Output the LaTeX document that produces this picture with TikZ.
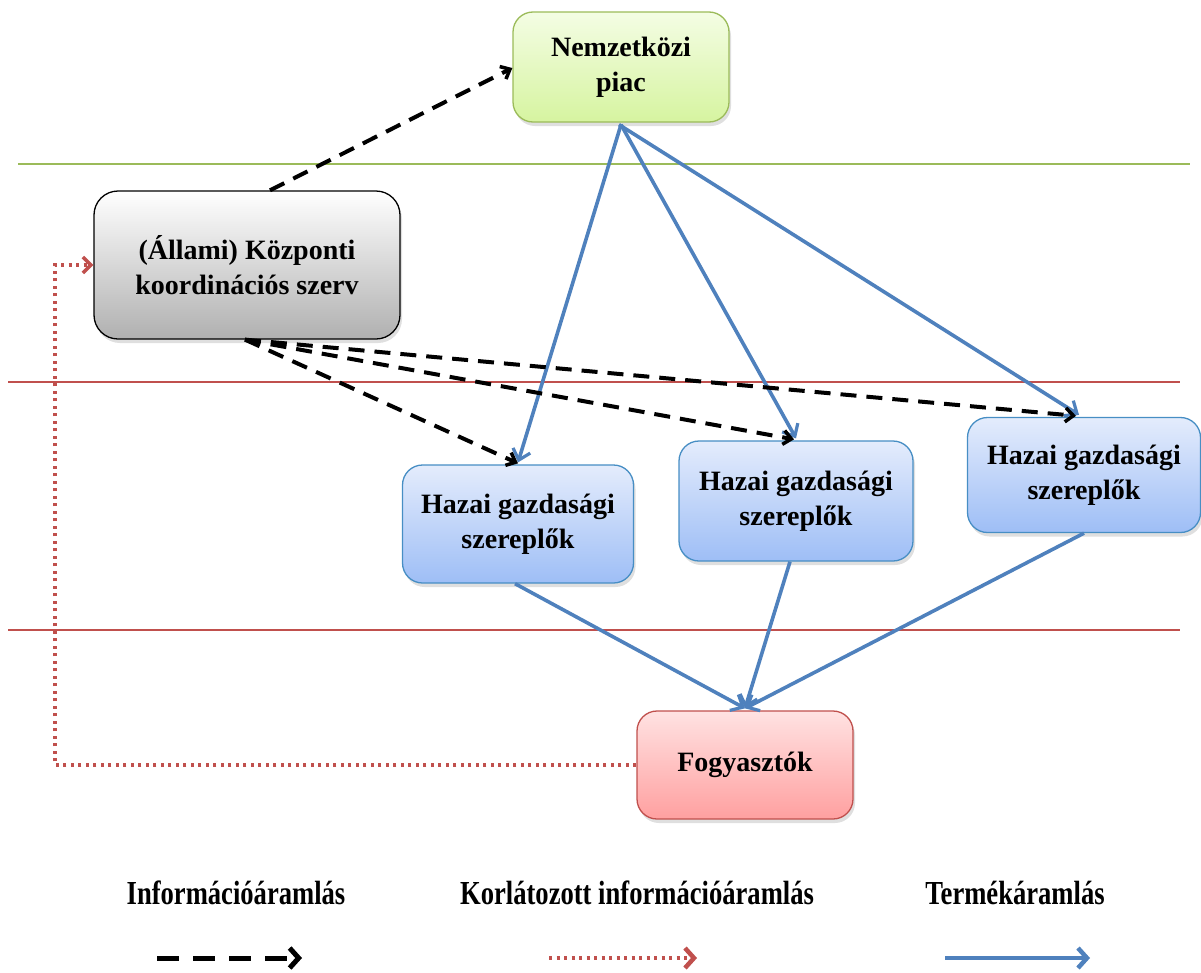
\documentclass[tikz,border=0pt]{standalone}
\usepackage{fontspec}
\setmainfont{Liberation Serif}
\usetikzlibrary{arrows.meta,shadows}
\definecolor{prodblue}{HTML}{4F81BD}
\definecolor{infored}{HTML}{C0504D}
\definecolor{linegreen}{HTML}{9BBB59}
\tikzset{
  box/.style={rounded corners=20pt, line width=1.3pt, align=center,
    font=\fontsize{28}{35}\selectfont\bfseries, inner sep=0pt,
    drop shadow={shadow xshift=2pt, shadow yshift=-4pt, opacity=0.25}},
  greenbox/.style={box, draw=linegreen, top color={rgb,255:red,244;green,253;blue,228}, bottom color={rgb,255:red,214;green,244;blue,160}},
  greybox/.style={box, draw=black, top color=white, bottom color={rgb,255:red,176;green,176;blue,176}},
  bluebox/.style={box, draw=prodblue!90!cyan, top color={rgb,255:red,228;green,236;blue,252}, bottom color={rgb,255:red,158;green,190;blue,246}},
  redbox/.style={box, draw=infored, top color={rgb,255:red,255;green,226;blue,226}, bottom color={rgb,255:red,255;green,160;blue,160}},
  infoflow/.style={draw=black, line width=4pt, dash pattern=on 16pt off 10pt,
    -{Straight Barb[length=8pt,width=14pt,line width=3.5pt]}},
  limitflow/.style={draw=infored, line width=3.5pt, dash pattern=on 3pt off 4.5pt,
    -{Straight Barb[length=8pt,width=16pt,line width=3.5pt]}},
  prodflow/.style={draw=prodblue, line width=3.6pt,
    -{Straight Barb[length=10pt,width=18pt,line width=3.2pt]}},
  layerline/.style={line width=1.2pt},
  legendtext/.style={font=\fontsize{28}{30}\selectfont\bfseries, inner sep=0pt}
}
\begin{document}
\begin{tikzpicture}[x=1pt,y=-1pt]
\useasboundingbox (0,0) rectangle (1201,972);

% layer separators
\draw[layerline, draw=linegreen] (18,164) -- (1190,164);
\draw[layerline, draw=infored] (8,382) -- (1180,382);
\draw[layerline, draw=infored] (8,630) -- (1180,630);

% actors
\node[greenbox, minimum width=216pt, minimum height=110pt] (nemz) at (621,67) {Nemzetközi\\piac};
\node[greybox, minimum width=306pt, minimum height=148pt, rounded corners=24pt] (kozp) at (247,265) {(Állami) Központi\\koordinációs szerv};
\node[bluebox, minimum width=231pt, minimum height=118pt] (hz1) at (518,524) {Hazai gazdasági\\szereplők};
\node[bluebox, minimum width=234pt, minimum height=120pt] (hz2) at (796,501) {Hazai gazdasági\\szereplők};
\node[bluebox, minimum width=233pt, minimum height=115pt] (hz3) at (1084,475) {Hazai gazdasági\\szereplők};
\node[redbox, minimum width=216pt, minimum height=108pt] (fog) at (745,765) {Fogyasztók};

% product flows
\draw[prodflow] ([yshift=-2pt]nemz.south) -- ([yshift=2pt]hz1.north);
\draw[prodflow] ([yshift=-2pt]nemz.south) -- ([yshift=2pt]hz2.north);
\draw[prodflow] ([xshift=-2pt,yshift=-2pt]nemz.south) -- ([xshift=-5pt,yshift=2pt]hz3.north);
\draw[prodflow] ([xshift=-3pt]hz1.south) -- ([yshift=2pt]fog.north);
\draw[prodflow] ([xshift=-6pt]hz2.south) -- ([yshift=2pt]fog.north);
\draw[prodflow] (hz3.south) -- ([yshift=2pt]fog.north);

% information flows
\draw[infoflow] ([xshift=23pt]kozp.north) -- ([yshift=-1pt]nemz.west);
\draw[infoflow] ([xshift=-2pt]kozp.south) -- ([yshift=1pt]hz1.north);
\draw[infoflow] ([xshift=-2pt]kozp.south) -- ([xshift=-2pt,yshift=1pt]hz2.north);
\draw[infoflow] ([xshift=-2pt]kozp.south) -- ([xshift=-8pt,yshift=1pt]hz3.north);

% restricted information flow
\coordinate (lft) at (55,0);
\draw[limitflow] (fog.west) -- (fog.west -| lft) |- (kozp.west);

% legend
\node[legendtext] (l1) at (236,893) {\scalebox{0.95}[1.2]{Információáramlás}};
\node[legendtext] (l2) at (637,893) {\scalebox{0.95}[1.2]{Korlátozott információáramlás}};
\node[legendtext] (l3) at (1015,893) {\scalebox{0.95}[1.2]{Termékáramlás}};
\coordinate (a1s) at (157,958); \coordinate (a1e) at (302,958);
\coordinate (a2s) at (549,958); \coordinate (a2e) at (697,958);
\coordinate (a3s) at (945,958); \coordinate (a3e) at (1090,958);
\draw[infoflow, line width=5pt, dash pattern=on 22pt off 14pt,
  -{Straight Barb[length=9pt,width=20pt,line width=5pt]}] (a1s) -- (a1e);
\draw[limitflow, -{Straight Barb[length=9pt,width=20pt,line width=4.5pt]}] (a2s) -- (a2e);
\draw[prodflow, line width=4.5pt,
  -{Straight Barb[length=9pt,width=20pt,line width=4.5pt]}] (a3s) -- (a3e);
\end{tikzpicture}
\end{document}
